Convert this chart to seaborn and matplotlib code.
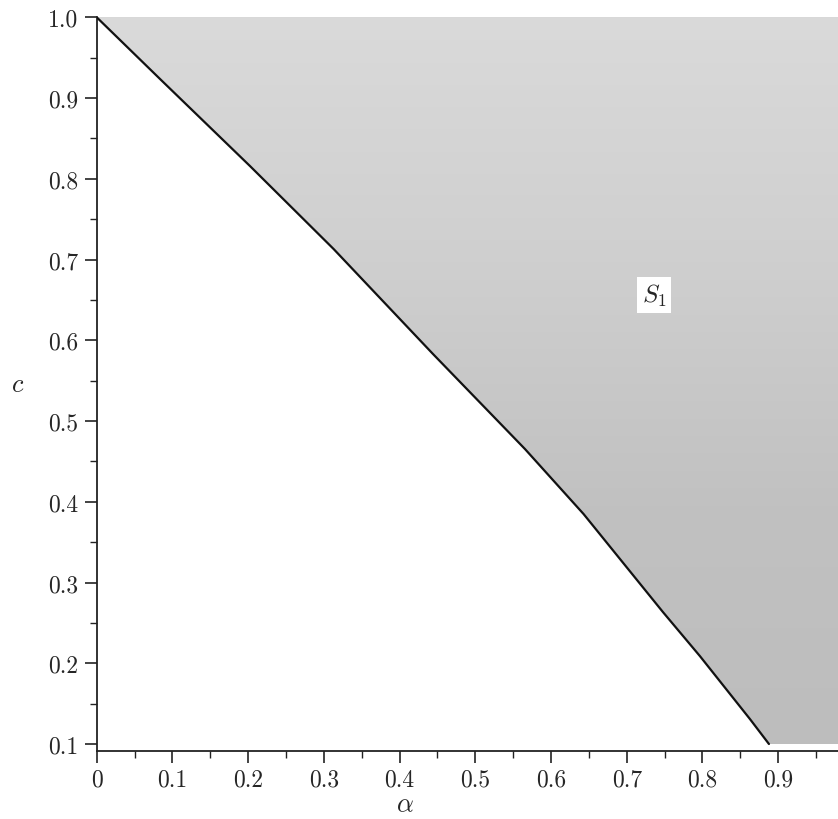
import matplotlib
matplotlib.use("Agg")
import matplotlib.pyplot as plt
import numpy as np
import pandas as pd
import seaborn as sns
from matplotlib.ticker import MultipleLocator, FormatStrFormatter, FuncFormatter

# boundary curve of region S1
alpha_curve = [0.0, 0.0836, 0.2024, 0.3130, 0.4441, 0.5656, 0.6430, 0.7478, 0.7966, 0.8627, 0.8878]
c_curve = [1.0, 0.9236, 0.8158, 0.7129, 0.5830, 0.4653, 0.3848, 0.2634, 0.2089, 0.1309, 0.1000]
region_label = "$S_1$"
label_pos = (0.736, 0.656)
x_ticks = [0, 0.1, 0.2, 0.3, 0.4, 0.5, 0.6, 0.7, 0.8, 0.9]
y_ticks = [0.1, 0.2, 0.3, 0.4, 0.5, 0.6, 0.7, 0.8, 0.9, 1.0]

sns.set_theme(style="ticks")
plt.rcParams["font.family"] = ["cmr10", "DejaVu Serif"]
plt.rcParams["mathtext.fontset"] = "cm"
plt.rcParams["axes.formatter.use_mathtext"] = True

df = pd.DataFrame({"alpha": alpha_curve, "c": c_curve})

fig = plt.figure(figsize=(8.38, 8.20), dpi=100)
ax = fig.add_axes([0.1154, 0.0829, 0.8846, 0.8948])

xmin, xmax = 0.0, 0.979
ymin, ymax = 0.0913, 1.0

# shaded region: between curve and right edge
poly = ax.fill_betweenx(df["c"], df["alpha"], 1.2, color="#c6c6c6", linewidth=0, zorder=1)
grad = np.linspace(0, 1, 256).reshape(-1, 1)
im = ax.imshow(grad, extent=[0, 1.2, ymin, ymax], origin="lower", aspect="auto",
               cmap=matplotlib.colors.LinearSegmentedColormap.from_list(
                   "g", ["#bdbdbd", "#c1c1c1", "#cfcfcf", "#dadada"]),
               zorder=1.5)
im.set_clip_path(poly.get_paths()[0], transform=ax.transData)

sns.lineplot(data=df, x="alpha", y="c", color="#111111", linewidth=1.6, ax=ax, zorder=3)

ax.text(label_pos[0], label_pos[1], region_label, fontsize=18, ha="center", va="center",
        bbox=dict(boxstyle="square,pad=0.2", facecolor="white", edgecolor="none"), zorder=4)

ax.set_xlim(xmin, xmax)
ax.set_ylim(ymin, ymax)
ax.set_xticks(x_ticks)
ax.set_yticks(y_ticks)
ax.xaxis.set_minor_locator(MultipleLocator(0.05))
ax.yaxis.set_minor_locator(MultipleLocator(0.05))
ax.xaxis.set_major_formatter(FuncFormatter(lambda v, p: "0" if abs(v) < 1e-9 else f"{v:.1f}"))
ax.yaxis.set_major_formatter(FormatStrFormatter("%.1f"))
ax.tick_params(axis="both", which="major", length=8.5, width=1.2, labelsize=17, pad=4, color="#222222")
ax.tick_params(axis="both", which="minor", length=5, width=1.0, color="#222222")
ax.tick_params(axis="y", which="major", pad=5)

for s in ["top", "right"]:
    ax.spines[s].set_visible(False)
for s in ["left", "bottom"]:
    ax.spines[s].set_linewidth(1.3)
    ax.spines[s].set_color("#222222")

ax.set_xlabel(r"$\alpha$", fontsize=19)
ax.set_ylabel(r"$c$", fontsize=19, rotation=0, va="center")
ax.xaxis.set_label_coords(0.416, -0.057)
ax.yaxis.set_label_coords(-0.107, 0.500)
ax.set_facecolor("white")

fig.savefig("out.png", dpi=100)
